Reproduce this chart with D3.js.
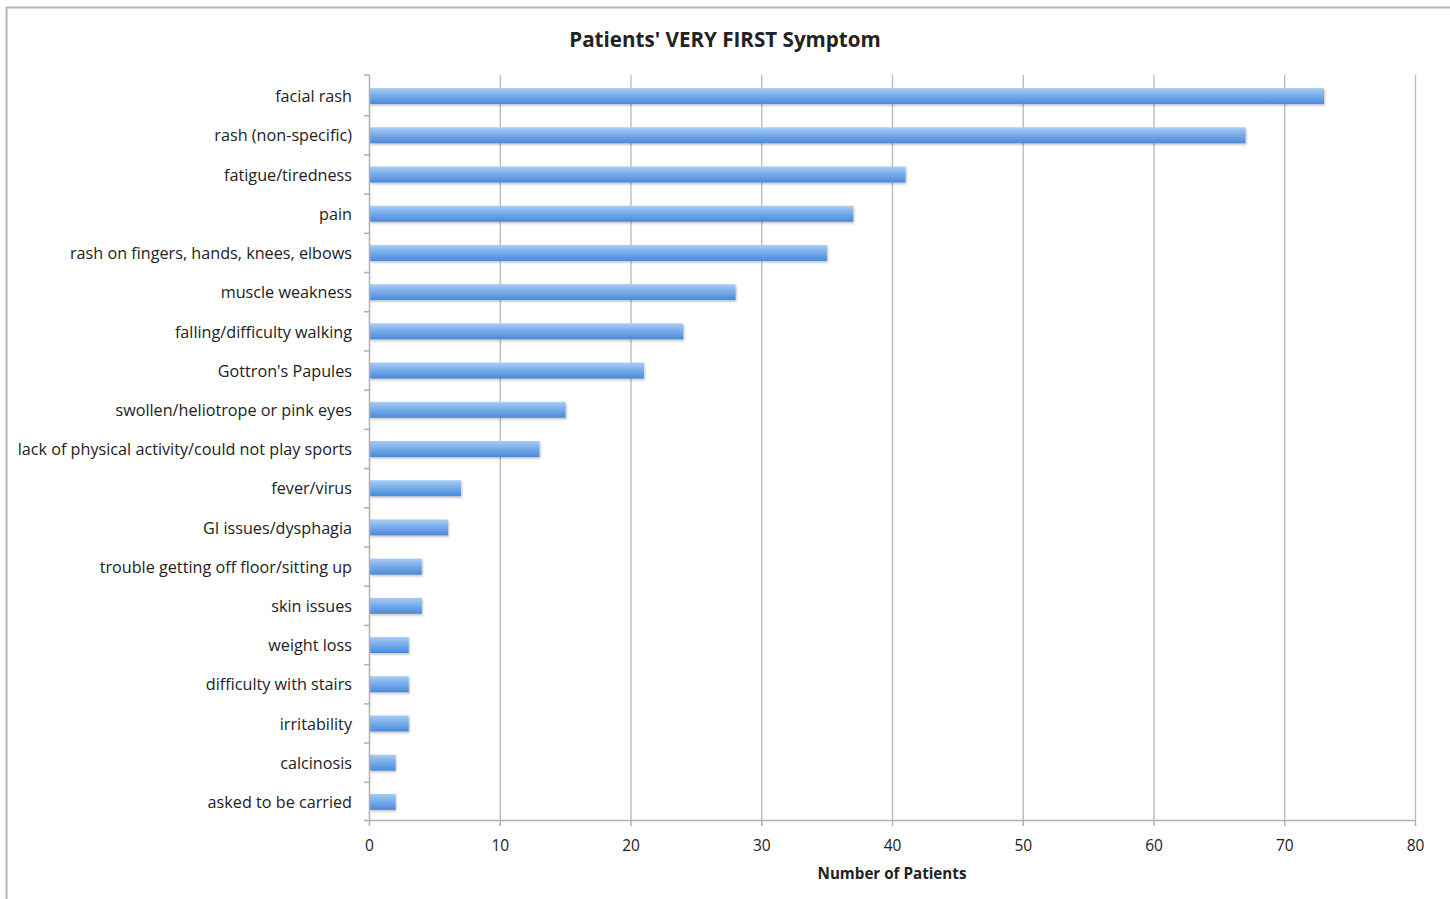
<!DOCTYPE html>
<html>
<head>
<meta charset="utf-8">
<script src="https://cdn.jsdelivr.net/npm/d3@7"></script>
<style>
  body { margin: 0; background: #fff; }
  text { font-family: "Open Sans", "DejaVu Sans", sans-serif; fill: #222; }
</style>
</head>
<body>
<svg id="chart" width="1450" height="899"></svg>
<script>
// symptom names, top to bottom
const symptoms = [
  "facial rash",
  "rash (non-specific)",
  "fatigue/tiredness",
  "pain",
  "rash on fingers, hands, knees, elbows",
  "muscle weakness",
  "falling/difficulty walking",
  "Gottron's Papules",
  "swollen/heliotrope or pink eyes",
  "lack of physical activity/could not play sports",
  "fever/virus",
  "GI issues/dysphagia",
  "trouble getting off floor/sitting up",
  "skin issues",
  "weight loss",
  "difficulty with stairs",
  "irritability",
  "calcinosis",
  "asked to be carried"
];
const patients = [73, 67, 41, 37, 35, 28, 24, 21, 15, 13, 7, 6, 4, 4, 3, 3, 3, 2, 2];
const xTicks = [0, 10, 20, 30, 40, 50, 60, 70, 80];

const chartTitle = "Patients' VERY FIRST Symptom";
const xTitle = "Number of Patients";

const margin = {top: 75, right: 35, bottom: 79, left: 369};
const svg = d3.select("#chart");
const width = +svg.attr("width");
const height = +svg.attr("height");
const plotW = width - margin.left - margin.right;
const plotH = height - margin.top - margin.bottom;

// outer frame (only top and left edges show in the picture)
svg.append("path")
    .attr("d", "M6.5,899 V7.5 H1450")
    .attr("fill", "none")
    .attr("stroke", "#b5b5b5")
    .attr("stroke-width", 2);

const defs = svg.append("defs");
const grad = defs.append("linearGradient")
    .attr("id", "barGrad")
    .attr("x1", 0).attr("y1", 0).attr("x2", 0).attr("y2", 1);
grad.append("stop").attr("offset", "0%").attr("stop-color", "#aacdf4");
grad.append("stop").attr("offset", "45%").attr("stop-color", "#78aeeb");
grad.append("stop").attr("offset", "100%").attr("stop-color", "#4b89d8");

const shadow = defs.append("filter")
    .attr("id", "barShadow")
    .attr("x", "-5%").attr("y", "-30%").attr("width", "110%").attr("height", "170%");
shadow.append("feDropShadow")
    .attr("dx", 1).attr("dy", 1.5).attr("stdDeviation", 1.2)
    .attr("flood-color", "#000").attr("flood-opacity", 0.25);

const xScale = d3.scaleLinear()
    .domain([0, 80])
    .range([0, plotW]);

const yScale = d3.scaleBand()
    .domain(symptoms)
    .range([1.5, plotH + 1.5])
    .paddingInner(0.6)
    .paddingOuter(0.3);

const g = svg.append("g")
    .attr("transform", "translate(" + margin.left + "," + margin.top + ")");

// vertical gridlines
g.append("g")
    .selectAll("line")
    .data(xTicks.slice(1))
    .enter()
    .append("line")
    .attr("x1", d => xScale(d) + 0.5)
    .attr("x2", d => xScale(d) + 0.5)
    .attr("y1", 0)
    .attr("y2", plotH)
    .attr("stroke", "#b8b8b8")
    .attr("stroke-width", 1.3);

// bars
g.append("g")
    .selectAll("rect")
    .data(patients)
    .enter()
    .append("rect")
    .attr("x", 0.5)
    .attr("y", (d, i) => yScale(symptoms[i]) + (yScale.bandwidth() - 16) / 2)
    .attr("width", d => xScale(d))
    .attr("height", 16)
    .attr("fill", "url(#barGrad)")
    .attr("filter", "url(#barShadow)");

// y axis: ticks sit between categories, Excel style
const step = yScale.step();
const tickY = i => yScale(symptoms[i]) + yScale.bandwidth() / 2 - step / 2;
const yAxisG = g.append("g");
yAxisG.append("line")
    .attr("x1", 0.5).attr("x2", 0.5)
    .attr("y1", 0).attr("y2", plotH)
    .attr("stroke", "#b0b0b0")
    .attr("stroke-width", 1.5);
yAxisG.selectAll("line.tick")
    .data(d3.range(symptoms.length))
    .enter()
    .append("line")
    .attr("class", "tick")
    .attr("x1", -5).attr("x2", 0.5)
    .attr("y1", i => i === 0 ? 0 : tickY(i))
    .attr("y2", i => i === 0 ? 0 : tickY(i))
    .attr("stroke", "#b0b0b0")
    .attr("stroke-width", 1.5);
yAxisG.selectAll("text")
    .data(symptoms)
    .enter()
    .append("text")
    .attr("x", -17)
    .attr("y", d => yScale(d) + yScale.bandwidth() / 2 + 0.5)
    .attr("dy", "0.35em")
    .attr("text-anchor", "end")
    .style("font-size", "16.2px")
    .text(d => d);

// x axis
const xAxis = d3.axisBottom(xScale)
    .tickValues(xTicks)
    .tickSize(6)
    .tickPadding(14);
const xAxisG = g.append("g")
    .attr("transform", "translate(0," + plotH + ")")
    .call(xAxis);
xAxisG.select(".domain")
    .attr("d", "M-5,0.5H" + plotW)
    .attr("stroke", "#b0b0b0")
    .attr("stroke-width", 1.5);
xAxisG.selectAll(".tick line")
    .attr("stroke", "#b0b0b0")
    .attr("stroke-width", 1.5);
xAxisG.selectAll(".tick text")
    .style("font-size", "15.5px")
    .attr("fill", "#222");

// axis title
svg.append("text")
    .attr("x", margin.left + plotW / 2)
    .attr("y", 879)
    .attr("text-anchor", "middle")
    .style("font-size", "15.2px")
    .style("font-weight", "bold")
    .text(xTitle);

// chart title
svg.append("text")
    .attr("x", 725)
    .attr("y", 47)
    .attr("text-anchor", "middle")
    .style("font-size", "20.6px")
    .style("font-weight", "bold")
    .text(chartTitle);
</script>
</body>
</html>
